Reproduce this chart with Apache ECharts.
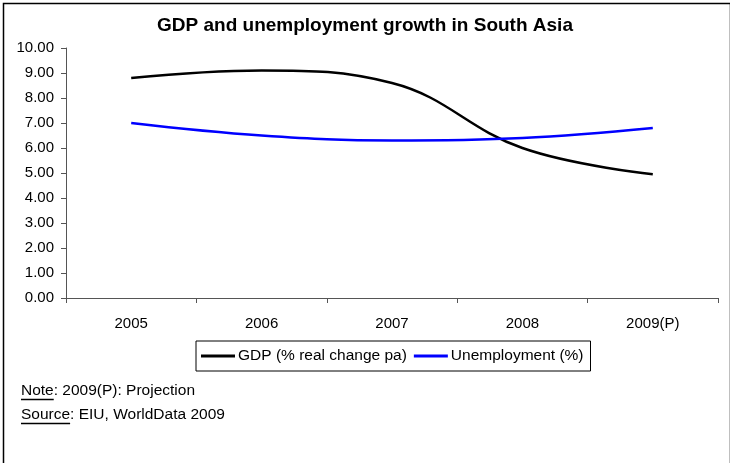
<!DOCTYPE html>
<html>
<head>
<meta charset="utf-8">
<script src="https://cdn.jsdelivr.net/npm/echarts@6/dist/echarts.min.js"></script>
<style>
  html, body { margin: 0; padding: 0; background: #fff; }
  #chart { width: 730px; height: 463px; }
</style>
</head>
<body>
<div id="chart"></div>
<script>
// Categories and series values
var years = ['2005', '2006', '2007', '2008', '2009(P)'];
var gdpGrowth = [8.8, 9.1, 8.6, 6.0, 4.95];
var unemployment = [7.0, 6.5, 6.3, 6.4, 6.8];
var yTicks = [0, 1, 2, 3, 4, 5, 6, 7, 8, 9, 10];

var FONT = '"Liberation Sans", Arial, sans-serif';

// Width of a text run, used to size the underlines in the footnotes
function textWidth(str, size) {
  var ctx = document.createElement('canvas').getContext('2d');
  ctx.font = size + 'px ' + FONT;
  return ctx.measureText(str).width;
}

var noteX = 21, noteY = 391, sourceY = 415, footSize = 15.5;
var noteW = textWidth('Note', footSize);
var sourceW = textWidth('Source', footSize);

var chart = echarts.init(document.getElementById('chart'), null, { renderer: 'canvas' });

chart.setOption({
  animation: false,
  backgroundColor: '#fff',
  textStyle: { fontFamily: FONT },
  title: {
    text: 'GDP and unemployment growth in South Asia',
    left: 'center',
    top: 11,
    textStyle: { fontFamily: FONT, fontSize: 19, fontWeight: 'bold', color: '#000' }
  },
  grid: { left: 66, right: 12, top: 48, bottom: 165, containLabel: false },
  xAxis: {
    type: 'category',
    data: years,
    boundaryGap: true,
    axisLine: { lineStyle: { color: '#555', width: 1 } },
    axisTick: { show: true, length: 5, inside: false, lineStyle: { color: '#555' } },
    axisLabel: { color: '#000', fontSize: 15, fontFamily: FONT, margin: 18 },
    splitLine: { show: false }
  },
  yAxis: {
    type: 'value',
    min: yTicks[0],
    max: yTicks[yTicks.length - 1],
    interval: 1,
    axisLine: { show: true, lineStyle: { color: '#555', width: 1 } },
    axisTick: { show: true, length: 5, lineStyle: { color: '#555' } },
    axisLabel: {
      color: '#000', fontSize: 15, fontFamily: FONT, margin: 12,
      formatter: function (v) { return v.toFixed(2); }
    },
    splitLine: { show: false }
  },
  legend: {
    left: 196,
    top: 341,
    padding: [7, 7, 7, 5],
    borderColor: '#000',
    borderWidth: 1,
    itemGap: 7,
    itemWidth: 34,
    itemHeight: 3,
    icon: 'rect',
    textStyle: { color: '#000', fontSize: 15.5, fontFamily: FONT, padding: [0, 0, 0, -2] },
    data: ['GDP (% real change pa)', 'Unemployment (%)']
  },
  series: [
    {
      name: 'GDP (% real change pa)',
      type: 'line',
      data: gdpGrowth,
      smooth: 0.4,
      symbol: 'none',
      lineStyle: { color: '#000', width: 2.5 },
      itemStyle: { color: '#000' }
    },
    {
      name: 'Unemployment (%)',
      type: 'line',
      data: unemployment,
      smooth: 0.4,
      symbol: 'none',
      lineStyle: { color: '#0000ff', width: 2.5 },
      itemStyle: { color: '#0000ff' }
    }
  ],
  graphic: [
    {
      type: 'rect',
      left: 1, top: 1, silent: true,
      shape: { x: 0, y: 0, width: 727, height: 520 },
      style: { fill: 'none', stroke: '#000', lineWidth: 1.5 }
    },
    {
      type: 'text', silent: true,
      x: noteX, y: noteY,
      style: { text: 'Note: 2009(P): Projection', font: footSize + 'px ' + FONT, fill: '#000', textVerticalAlign: 'middle' }
    },
    {
      type: 'line', silent: true,
      shape: { x1: noteX, y1: noteY + 8.5, x2: noteX + noteW, y2: noteY + 8.5 },
      style: { stroke: '#000', lineWidth: 1.5 }
    },
    {
      type: 'text', silent: true,
      x: noteX, y: sourceY,
      style: { text: 'Source: EIU, WorldData 2009', font: footSize + 'px ' + FONT, fill: '#000', textVerticalAlign: 'middle' }
    },
    {
      type: 'line', silent: true,
      shape: { x1: noteX, y1: sourceY + 8.5, x2: noteX + sourceW, y2: sourceY + 8.5 },
      style: { stroke: '#000', lineWidth: 1.5 }
    }
  ]
});
</script>
</body>
</html>
